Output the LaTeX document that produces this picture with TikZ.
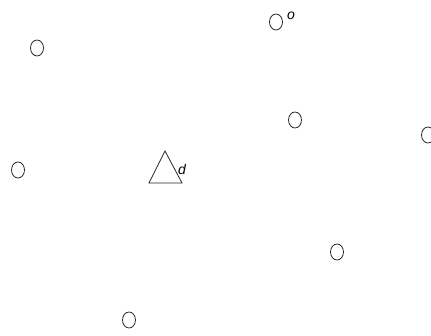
\documentclass[tikz,border=0pt]{standalone}
\usepackage{fontspec}
\setmainfont{Liberation Sans}
\usetikzlibrary{shapes.geometric}

\tikzset{
  site/.style={draw=black!85,ellipse,minimum width=13pt,minimum height=16pt,inner sep=0pt,line width=.8pt},
  tag/.style={font=\fontsize{14}{16}\selectfont\itshape,inner sep=0pt}
}

\begin{document}
\begin{tikzpicture}[x=1pt,y=-1pt]
  \useasboundingbox (0,0) rectangle (431,336);
  % sites
  \node[site] (s1) at (37,48) {};
  \node[site] (s2) at (276,22) {};
  \node[site] (s3) at (295,120) {};
  \node[site] (s4) at (428,135) {};
  \node[site] (s5) at (18,170) {};
  \node[site] (s6) at (337,252) {};
  \node[site] (s7) at (129,320) {};
  \node[tag,anchor=center] (o) at (291,16) {o};
  % depot
  \coordinate (d) at (165,167);
  \draw[black!85,line width=.8pt,line join=miter] (165,151) -- (182,183) -- (149,183) -- cycle;
  \node[tag,anchor=center] (dl) at (182,170) {d};
\end{tikzpicture}
\end{document}
